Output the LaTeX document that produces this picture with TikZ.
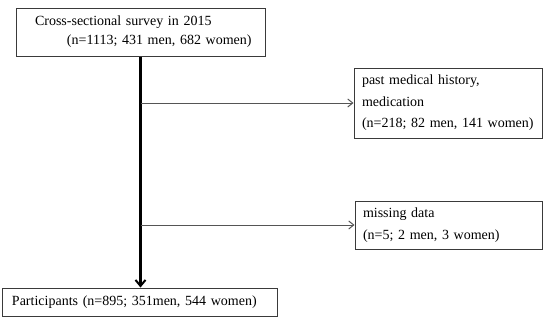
\documentclass[tikz,border=0pt]{standalone}
\usepackage{fontspec}
\setmainfont{Liberation Serif}
\usetikzlibrary{arrows.meta, positioning}
\definecolor{boxline}{HTML}{3A3A3A}
\definecolor{exclline}{HTML}{555555}

\begin{document}
\begin{tikzpicture}[
    x=1pt, y=-1pt,
    flowbox/.style={
        draw=boxline,
        line width=1pt,
        align=left,
        inner ysep=0pt,
        font=\fontsize{14}{19}\selectfont
    },
    exclbox/.style={
        flowbox,
        font=\fontsize{14}{21.5}\selectfont
    },
    mainflow/.style={
        -{Straight Barb[length=6pt, width=10pt, line width=2pt]},
        line width=2.4pt,
        black
    },
    excllink/.style={
        -{Straight Barb[length=5pt, width=8pt]},
        line width=1pt,
        exclline
    }
]
    \useasboundingbox (0,0) rectangle (550,324);

    \node[flowbox, text width=225pt, inner xsep=12pt, minimum height=48pt] (survey) at (140.5,32)
        {\hspace*{7pt}Cross-sectional survey in 2015\\\mbox{\hspace*{39pt}(n=1113; 431 men, 682 women)}};
    \node[exclbox, text width=172pt, inner xsep=8pt, minimum height=70pt] (history) at (448,103)
        {past medical history,\\medication\\(n=218; 82 men, 141 women)};
    \node[exclbox, text width=171pt, inner xsep=8pt, minimum height=48pt] (missing) at (448.5,225)
        {missing data\\(n=5; 2 men, 3 women)};
    \node[flowbox, text width=255pt, inner xsep=10pt, minimum height=28pt] (participants) at (139.5,302)
        {Participants (n=895; 351men, 544 women)};

    \draw[mainflow] (survey.south) -- (survey.south |- participants.north);
    \draw[excllink] (survey.south |- history.west) -- (history.west);
    \draw[excllink] (survey.south |- missing.west) -- (missing.west);
\end{tikzpicture}
\end{document}
